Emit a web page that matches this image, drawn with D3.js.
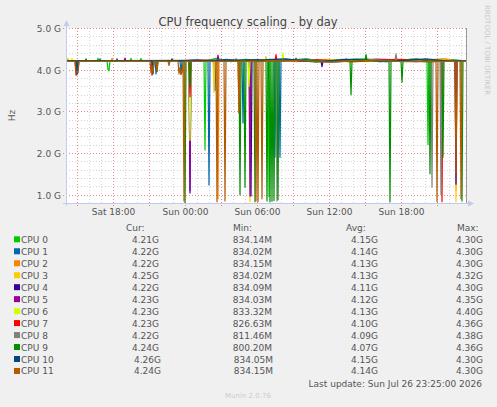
<!DOCTYPE html>
<html>
<head>
<meta charset="utf-8">
<script src="https://cdn.jsdelivr.net/npm/d3@7"></script>
<style>
  body { margin: 0; background: #f0f0f0; }
  svg { display: block; font-family: "DejaVu Sans", sans-serif; }
</style>
</head>
<body>
<svg id="chart"></svg>
<script>
// samples as [5-minute step since start of window, GHz]
const cpu0 = [[0,4.21],[31,4.21],[32,4.27],[33,4.21],[41,4.21],[42,4.0],[43,3.97],[44,4.21],[64,4.21],[65,4.27],[66,4.21],[74,4.21],[75,4.27],[76,4.21],[125,4.21],[132,4.24],[138,4.21],[139,2.07],[140,4.21],[150,4.27],[165,4.19],[180,4.25],[202,4.21],[203,0.95],[204,4.21],[230,4.25],[250,4.18],[270,4.24],[300,4.26],[320,4.19],[345,4.25],[361,4.21],[362,2.2],[363,4.21],[380,4.24],[400,4.21]];
const cpu1 = [[0,4.21],[11,4.21],[12,3.92],[13,4.21],[33,4.21],[34,4.26],[35,4.21],[50,4.21],[51,4.26],[52,4.21],[89,4.21],[90,3.9],[91,4.21],[114,4.21],[115,3.9],[116,4.21],[130,4.24],[142,4.21],[143,1.23],[144,4.21],[148,4.21],[149,3.5],[150,4.21],[160,4.25],[176,4.21],[177,2.72],[178,4.21],[190,4.24],[208,4.21],[209,1.9],[210,4.21],[213,4.21],[214,1.9],[215,4.21],[240,4.26],[265,4.18],[290,4.24],[320,4.25],[350,4.19],[375,4.25],[400,4.21]];
const cpu2 = [[0,4.21],[45,4.21],[46,4.27],[47,4.21],[120,4.21],[140,4.23],[151,4.21],[152,0.9],[153,4.21],[169,4.21],[170,4.27],[171,4.21],[172,4.21],[173,2.96],[174,4.21],[200,4.24],[230,4.19],[260,4.25],[285,4.18],[310,4.26],[340,4.2],[365,4.24],[380,4.26],[389,4.21],[390,1.1],[391,4.21],[400,4.21]];
const cpu3 = [[0,4.21],[1,4.21],[2,4.27],[3,4.21],[130,4.21],[147,4.21],[148,3.45],[149,4.21],[183,4.21],[184,0.83],[185,4.21],[199,4.21],[200,4.32],[201,4.21],[240,4.24],[275,4.19],[305,4.25],[335,4.19],[370,4.25],[389,4.21],[390,0.83],[391,4.21],[400,4.21]];
const cpu4 = [[0,4.21],[123,4.21],[124,1.04],[125,4.21],[184,4.21],[185,0.97],[186,4.21],[229,4.21],[230,4.27],[231,4.21],[255,4.21],[256,4.07],[257,4.21],[280,4.24],[315,4.19],[345,4.25],[389,4.21],[390,1.25],[391,4.21],[400,4.21]];
const cpu5 = [[0,4.21],[58,4.21],[59,4.28],[60,4.21],[123,4.21],[124,1.1],[125,4.21],[151,4.21],[152,4.35],[153,4.21],[183,4.21],[184,0.97],[185,4.21],[220,4.24],[250,4.19],[279,4.21],[280,4.26],[281,4.21],[320,4.24],[360,4.19],[400,4.21]];
const cpu6 = [[0,4.21],[5,4.21],[6,4.27],[7,4.21],[123,4.21],[124,2.3],[125,4.21],[182,4.21],[183,3.6],[184,4.21],[216,4.21],[217,4.4],[218,4.21],[260,4.24],[300,4.19],[340,4.25],[400,4.21]];
const cpu7 = [[0,4.21],[9,4.21],[10,3.87],[11,4.21],[85,4.21],[86,3.87],[87,4.21],[123,4.21],[124,3.35],[125,4.21],[209,4.21],[210,4.36],[211,4.21],[250,4.24],[290,4.19],[330,4.25],[375,4.21],[376,0.83],[377,4.21],[400,4.21]];
const cpu8 = [[0,4.21],[150,4.23],[190,4.19],[210,4.21],[211,0.85],[212,4.21],[240,4.25],[270,4.18],[300,4.24],[329,4.21],[330,4.38],[331,4.21],[365,4.21],[366,1.18],[367,4.21],[374,4.21],[375,1.0],[376,4.21],[400,4.21]];
const cpu9 = [[0,4.21],[19,4.21],[20,4.26],[21,4.21],[90,4.21],[91,3.95],[92,4.21],[118,4.21],[119,0.8],[120,4.21],[123,4.21],[124,3.6],[125,4.21],[173,4.21],[174,1.0],[175,4.21],[178,4.21],[179,1.18],[180,4.21],[188,4.21],[189,0.83],[190,4.21],[200,4.21],[201,0.85],[202,4.21],[203,4.21],[204,0.83],[205,4.21],[206,0.84],[207,4.21],[208,0.86],[209,4.21],[211,4.21],[212,0.88],[213,4.21],[240,4.24],[260,4.19],[284,4.21],[285,3.4],[286,4.21],[299,4.21],[300,4.36],[301,4.21],[323,4.21],[324,0.83],[325,4.21],[335,4.21],[336,3.7],[337,4.21],[350,4.26],[363,4.21],[364,1.5],[365,4.21],[376,4.21],[377,1.9],[378,4.21],[395,4.21],[396,0.85],[397,4.21],[400,4.21]];
const cpu10 = [[0,4.21],[10,4.21],[11,3.88],[12,4.21],[86,4.21],[87,3.9],[88,4.21],[105,4.21],[106,4.26],[107,4.21],[200,4.24],[220,4.26],[245,4.19],[290,4.25],[320,4.19],[360,4.26],[385,4.2],[400,4.21]];
const cpu11 = [[0,4.2],[9,4.2],[10,3.95],[11,3.93],[12,3.98],[13,4.2],[84,4.2],[85,3.93],[86,4.1],[87,3.92],[88,4.2],[90,4.2],[91,3.96],[92,4.2],[102,4.2],[103,4.1],[104,4.2],[112,4.2],[113,3.9],[114,4.05],[115,3.88],[116,3.95],[117,4.2],[118,0.85],[119,4.2],[150,4.2],[151,0.83],[152,4.2],[158,4.2],[159,0.85],[160,4.2],[172,4.2],[173,2.96],[174,4.2],[189,4.2],[190,0.85],[191,4.2],[192,0.83],[193,4.2],[195,4.2],[196,0.9],[197,4.2],[230,4.22],[260,4.18],[300,4.22],[340,4.19],[370,4.2],[371,0.83],[372,4.2],[389,4.2],[390,1.5],[391,4.2],[394,4.2],[395,0.9],[396,4.2],[400,4.2]];

const names = ['CPU 0','CPU 1','CPU 2','CPU 3','CPU 4','CPU 5','CPU 6','CPU 7','CPU 8','CPU 9','CPU 10','CPU 11'];
const curVals = ['4.21G','4.22G','4.22G','4.25G','4.22G','4.23G','4.23G','4.23G','4.22G','4.24G','4.26G','4.24G'];
const minVals = ['834.14M','834.02M','834.15M','834.02M','834.09M','834.03M','833.32M','826.63M','811.46M','800.20M','834.05M','834.15M'];
const avgVals = ['4.15G','4.14G','4.13G','4.13G','4.11G','4.12G','4.13G','4.10G','4.09G','4.07G','4.15G','4.14G'];
const maxVals = ['4.30G','4.30G','4.30G','4.32G','4.30G','4.35G','4.40G','4.36G','4.38G','4.36G','4.30G','4.30G'];
const yTicks = [1, 2, 3, 4, 5];

const series = [cpu0, cpu1, cpu2, cpu3, cpu4, cpu5, cpu6, cpu7, cpu8, cpu9, cpu10, cpu11];
const colors = ['#00cc00','#0066b3','#ff8000','#ffcc00','#330099','#990099','#ccff00','#ff0000','#808080','#008f00','#00487d','#b35a00'];

const width = 497, height = 407;
const plot = {left: 66, right: 466, top: 28, bottom: 203};
const stepMs = 5 * 60 * 1000;
const endTime = new Date(2026, 6, 26, 23, 25, 0);
const startTime = new Date(endTime.getTime() - 400 * stepMs);
const textColor = '#555';

const svg = d3.select('#chart')
    .attr('width', width)
    .attr('height', height);

svg.append('rect')
    .attr('width', width)
    .attr('height', height)
    .attr('fill', '#f0f0f0');

svg.append('rect')
    .attr('x', plot.left)
    .attr('y', plot.top)
    .attr('width', plot.right - plot.left)
    .attr('height', plot.bottom - plot.top)
    .attr('fill', '#ffffff');

const xscale = d3.scaleTime()
    .domain([startTime, endTime])
    .range([plot.left, plot.right]);

const yscale = d3.scaleLinear()
    .domain([0.8, 5.0])
    .range([plot.bottom, plot.top]);

const stepTime = i => new Date(startTime.getTime() + i * stepMs);

// grid
const grid = svg.append('g');
grid.selectAll('.hminor')
    .data(yscale.ticks(21))
    .join('line')
    .attr('x1', plot.left).attr('x2', plot.right)
    .attr('y1', d => Math.round(yscale(d)) + 0.5)
    .attr('y2', d => Math.round(yscale(d)) + 0.5)
    .attr('stroke', '#d4d4d4')
    .attr('stroke-dasharray', '1,2');

grid.selectAll('.vminor')
    .data(xscale.ticks(d3.timeHour.every(1)))
    .join('line')
    .attr('x1', d => Math.round(xscale(d)) + 0.5)
    .attr('x2', d => Math.round(xscale(d)) + 0.5)
    .attr('y1', plot.top).attr('y2', plot.bottom)
    .attr('stroke', '#d4d4d4')
    .attr('stroke-dasharray', '1,2');

grid.selectAll('.hmajor')
    .data(yTicks)
    .join('line')
    .attr('x1', plot.left - 3).attr('x2', plot.right)
    .attr('y1', d => Math.round(yscale(d)) + 0.5)
    .attr('y2', d => Math.round(yscale(d)) + 0.5)
    .attr('stroke', '#ec8a8a')
    .attr('stroke-dasharray', '1,2');

grid.selectAll('.vmajor')
    .data(xscale.ticks(d3.timeHour.every(3)))
    .join('line')
    .attr('x1', d => Math.round(xscale(d)) + 0.5)
    .attr('x2', d => Math.round(xscale(d)) + 0.5)
    .attr('y1', plot.top).attr('y2', plot.bottom + 3)
    .attr('stroke', '#ec8a8a')
    .attr('stroke-dasharray', '1,2');

// series lines, CPU 0 first so CPU 11 ends on top
const line = d3.line()
    .x(d => xscale(stepTime(d[0])))
    .y(d => yscale(d[1]));

svg.append('g')
    .selectAll('path')
    .data(series)
    .join('path')
    .attr('d', d => line(d))
    .attr('fill', 'none')
    .attr('stroke', (d, i) => colors[i])
    .attr('stroke-width', 1.2)
    .attr('stroke-linejoin', 'round');

// right edge rule
svg.append('line')
    .attr('x1', plot.right + 0.5).attr('x2', plot.right + 0.5)
    .attr('y1', plot.top).attr('y2', plot.bottom)
    .attr('stroke', '#999');

// axes with arrows
const axisColor = '#c3caf0';
svg.append('line')
    .attr('x1', plot.left + 0.5).attr('x2', plot.left + 0.5)
    .attr('y1', plot.bottom + 3).attr('y2', plot.top - 4)
    .attr('stroke', axisColor);
svg.append('path')
    .attr('d', `M${plot.left + 0.5},${plot.top - 8} L${plot.left - 2.5},${plot.top - 2} L${plot.left + 3.5},${plot.top - 2} Z`)
    .attr('fill', axisColor);
svg.append('line')
    .attr('x1', plot.left - 3).attr('x2', plot.right + 4)
    .attr('y1', plot.bottom + 0.5).attr('y2', plot.bottom + 0.5)
    .attr('stroke', axisColor);
svg.append('path')
    .attr('d', `M${plot.right + 8},${plot.bottom + 0.5} L${plot.right + 2},${plot.bottom - 2.5} L${plot.right + 2},${plot.bottom + 3.5} Z`)
    .attr('fill', axisColor);

const yaxis = d3.axisLeft(yscale)
    .tickValues(yTicks)
    .tickFormat(d => d.toFixed(1) + ' G')
    .tickSize(0)
    .tickPadding(0);
const yaxis_group = svg.append('g')
    .attr('transform', `translate(61, 0.5)`)
    .call(yaxis);

const xaxis = d3.axisBottom(xscale)
    .ticks(d3.timeHour.every(6))
    .tickFormat(d3.timeFormat('%a %H:%M'))
    .tickSize(0)
    .tickPadding(0);
const xaxis_group = svg.append('g')
    .attr('transform', `translate(0, 209)`)
    .call(xaxis);

[yaxis_group, xaxis_group].forEach(g => {
    g.select('.domain').remove();
    g.selectAll('text')
        .attr('fill', textColor)
        .style('font-size', '9px')
        .style('font-family', '"DejaVu Sans", sans-serif');
});

// titles
svg.append('text')
    .attr('x', 248)
    .attr('y', 25.5)
    .attr('text-anchor', 'middle')
    .attr('fill', '#444')
    .style('font-size', '11.5px')
    .text('CPU frequency scaling - by day');

svg.append('text')
    .attr('transform', `translate(15, ${(plot.top + plot.bottom) / 2}) rotate(-90)`)
    .attr('text-anchor', 'middle')
    .attr('fill', textColor)
    .style('font-size', '9px')
    .text('Hz');

svg.append('text')
    .attr('transform', 'translate(485, 5) rotate(90)')
    .attr('fill', '#c8c8c8')
    .style('font-size', '7px')
    .text('RRDTOOL / TOBI OETIKER');

// legend
const legend = svg.append('g')
    .attr('fill', textColor)
    .style('font-size', '9px');

const header_y = 231;
[['Cur:', 126], ['Min:', 233], ['Avg:', 346], ['Max:', 457]].forEach(h => {
    legend.append('text')
        .attr('x', h[1])
        .attr('y', header_y)
        .text(h[0]);
});

const row_y = i => 242.8 + i * 11.97;
names.forEach((name, i) => {
    const wide = i >= 10 ? 1 : 0;
    legend.append('rect')
        .attr('x', 14)
        .attr('y', row_y(i) - 6.5)
        .attr('width', 6)
        .attr('height', 6)
        .attr('fill', colors[i]);
    legend.append('text').attr('x', 21).attr('y', row_y(i)).text(name);
    legend.append('text').attr('x', 159 + 2 * wide).attr('y', row_y(i)).attr('text-anchor', 'end').text(curVals[i]);
    legend.append('text').attr('x', 272 + wide).attr('y', row_y(i)).attr('text-anchor', 'end').text(minVals[i]);
    legend.append('text').attr('x', 378).attr('y', row_y(i)).attr('text-anchor', 'end').text(avgVals[i]);
    legend.append('text').attr('x', 483).attr('y', row_y(i)).attr('text-anchor', 'end').text(maxVals[i]);
});

legend.append('text')
    .attr('x', 482)
    .attr('y', 386.5)
    .attr('text-anchor', 'end')
    .text('Last update: Sun Jul 26 23:25:00 2026');

svg.append('text')
    .attr('x', 248)
    .attr('y', 398)
    .attr('text-anchor', 'middle')
    .attr('fill', '#cccccc')
    .style('font-size', '7px')
    .text('Munin 2.0.76');
</script>
</body>
</html>
